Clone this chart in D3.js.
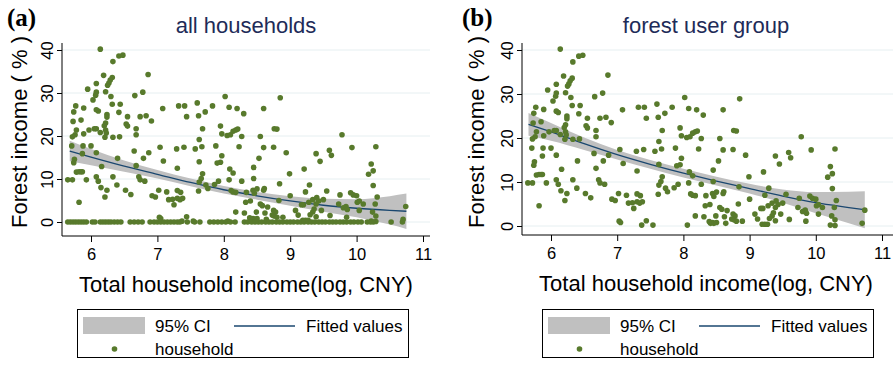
<!DOCTYPE html>
<html>
<head>
<meta charset="utf-8">
<script src="https://cdn.jsdelivr.net/npm/d3@7"></script>
<style>
  body { margin: 0; background: #fff; }
  svg { display: block; font-family: "Liberation Sans", Arial, sans-serif; }
</style>
</head>
<body>
<script>
// households with forest income > 0 (log income, forest income %)
const households = [
  [6.14,40.2],[6.42,38.6],[6.48,38.8],[6.33,37.3],[6.19,34.1],[6.86,34.3],
  [6.32,33.6],[6.29,33.0],[6.27,32.3],[6.25,31.8],[6.08,32.2],[5.95,30.9],
  [6.08,30.2],[6.07,29.5],[6.03,28.4],[6.22,30.3],[6.30,29.2],[6.66,29.4],[6.78,30.2],
  [6.32,27.4],[6.44,27.4],[5.77,27.0],[5.89,26.5],[5.74,25.6],[6.11,25.8],[6.08,26.1],
  [6.24,25.0],[6.24,24.4],[6.42,25.5],[6.55,24.5],[6.74,24.5],[6.83,24.7],[6.91,23.5],
  [7.08,26.4],[7.32,27.0],[7.41,27.0],[7.44,24.5],[6.53,22.8],[6.55,22.3],[6.22,23.0],[6.20,22.4],
  [5.73,23.4],[5.85,23.7],[6.68,21.7],[6.68,20.3],[5.78,21.4],[5.76,20.3],[5.72,19.8],[5.89,20.5],
  [5.97,21.4],[6.05,21.7],[6.08,21.7],[6.14,20.8],[6.22,21.4],[6.23,20.7],[6.21,19.7],[6.33,19.7],[6.43,19.8],
  [5.71,17.7],[5.88,17.7],[6.00,17.7],[6.08,16.1],[5.87,15.9],[6.65,16.5],[6.87,16.1],[7.04,17.4],[7.29,17.0],[7.40,17.4],
  [6.40,14.8],[5.75,14.6],[5.74,13.8],[6.16,12.9],[6.68,13.1],[6.79,14.8],[7.09,14.2],[7.30,12.5],
  [5.78,11.6],[5.82,11.7],[5.85,11.7],[5.87,11.7],[5.65,9.8],[5.72,9.8],[5.93,9.8],[6.08,10.5],[6.11,9.5],
  [6.33,10.5],[6.72,10.5],[6.74,9.8],[6.81,9.5],[6.15,8.0],[6.24,7.4],[6.39,8.6],[6.52,7.4],[6.60,6.4],
  [6.21,5.8],[5.82,4.6],[7.02,7.4],[7.14,7.0],[6.92,6.1],[6.97,5.8],[7.17,5.2],[7.23,5.3],[7.30,5.5],[7.34,5.2],[7.38,5.5],[7.25,4.0],
  [7.30,7.3],[7.35,6.9],[7.03,1.1],[7.05,0.8],[7.37,0.2],[7.44,1.2],
  [7.60,27.7],[7.62,24.7],[7.72,25.6],[7.83,27.0],[8.02,29.2],[8.08,26.7],[8.20,26.4],[8.30,25.2],[8.60,26.4],[8.85,28.9],
  [7.68,21.7],[7.95,22.3],[7.97,20.5],[8.05,20.1],[8.10,20.3],[8.14,21.1],[8.18,21.4],[8.21,21.6],[8.27,19.9],[8.55,19.9],[8.76,21.7],[8.80,21.6],
  [7.63,19.2],[7.57,17.0],[7.67,17.5],[7.88,17.7],[8.23,17.5],[8.60,17.3],[8.75,17.4],[8.94,16.1],
  [7.97,15.4],[7.95,13.9],[7.90,13.7],[7.63,14.0],[8.53,14.8],[8.45,12.7],[8.09,12.3],[8.14,11.4],[7.68,11.2],
  [7.66,10.1],[7.63,9.3],[7.73,8.6],[7.76,7.8],[7.86,8.7],[7.92,9.5],[8.08,9.8],[8.27,9.5],[8.45,10.1],[8.84,8.9],[8.99,11.2],[9.21,12.3],[9.29,8.6],
  [7.62,7.2],[8.11,7.3],[8.14,7.0],[8.18,6.9],[8.34,6.9],[8.44,7.4],[8.50,7.7],[8.46,6.7],[8.60,7.4],[8.61,7.8],[9.23,7.0],
  [8.40,4.9],[8.33,4.6],[8.55,4.2],[8.58,3.8],[8.66,3.5],[8.62,2.1],[8.83,5.0],[8.75,2.7],[8.78,2.3],[8.73,1.6],[8.76,1.4],[8.80,1.1],[8.89,1.1],
  [9.00,6.1],[9.08,2.7],[9.12,1.6],[9.17,4.0],[9.20,4.0],[9.28,4.6],[8.18,2.3],[8.31,2.1],[8.39,1.0],[8.41,0.6],[8.44,0.8],[8.46,0.6],[8.50,0.8],[8.49,2.3],[8.64,0.6],[8.06,0.2],[7.54,0.2],
  [9.19,0.4],[9.23,0.4],[9.27,0.4],
  [9.78,20.3],[9.93,17.3],[10.29,17.5],[9.39,15.9],[9.59,16.7],[9.62,15.5],[9.45,14.1],[10.22,13.5],[10.25,11.9],[10.18,11.1],[10.25,8.5],
  [9.55,7.2],[9.75,6.3],[9.91,6.8],[9.95,6.3],[10.00,6.1],[10.31,5.8],[10.74,3.6],
  [9.34,5.2],[9.40,5.7],[9.43,4.9],[9.39,4.2],[9.50,5.2],[9.36,3.0],[9.34,2.3],[9.30,1.7],[9.39,1.2],[9.47,2.7],[9.60,1.5],
  [9.73,4.2],[9.80,3.3],[9.84,3.6],[9.86,2.9],[9.85,1.1],[10.04,2.7],[10.01,4.6],[10.04,4.9],[10.10,4.2],[10.28,4.2],[10.24,2.3],[10.29,1.4],[10.22,0.2],[10.29,0.1],[10.70,0.6]
];

// log income of households with zero forest income (only in "all households")
const zeroIncome = [
  5.65,5.69,5.73,5.77,5.81,5.85,5.89,5.93,6.02,6.06,6.14,6.18,6.22,6.26,6.30,6.35,6.40,6.45,
  6.59,6.65,6.71,6.77,6.89,6.95,7.00,7.05,7.10,7.15,7.20,7.25,7.30,7.34,7.45,7.56,7.64,
  7.79,7.85,7.91,7.97,8.03,8.10,8.17,8.31,8.36,8.42,8.47,8.52,8.57,8.63,8.68,8.73,8.79,
  8.84,8.89,8.95,9.00,9.05,9.11,9.16,9.21,9.27,9.32,9.37,9.43,9.48,9.53,9.59,9.64,9.69,
  9.75,9.80,9.85,9.91,9.96,10.02,10.07,10.16,10.21,10.25,10.52,10.69
];

// fitted values and 95% CI
const fitXA = [5.68, 6, 6.5, 7, 7.5, 8, 8.5, 9, 9.5, 10, 10.5, 10.75];
const fitA  = [16.5, 15.1, 13.0, 11.1, 9.2, 7.5, 6.1, 4.9, 3.9, 3.2, 2.7, 2.5];
const ciLoA = [14.1, 13.2, 11.7, 10.1, 8.3, 6.6, 5.2, 3.8, 2.4, 1.1, -0.6, -1.6];
const ciHiA = [18.9, 17.0, 14.3, 12.1, 10.1, 8.4, 7.0, 6.0, 5.4, 5.3, 6.0, 6.6];

const fitXB = [5.66, 6, 6.5, 7, 7.5, 8, 8.5, 9, 9.5, 10, 10.5, 10.74];
const fitB  = [23.1, 21.4, 18.7, 16.2, 14.0, 12.0, 10.2, 8.5, 6.8, 5.3, 4.2, 3.7];
const ciLoB = [20.5, 19.4, 17.3, 15.1, 13.0, 11.0, 9.2, 7.4, 5.3, 2.9, 0.6, -0.5];
const ciHiB = [25.7, 23.4, 20.1, 17.3, 15.0, 13.0, 11.2, 9.6, 8.3, 7.7, 7.8, 7.9];

const xTicks = [6, 7, 8, 9, 10, 11];
const yTicks = [0, 10, 20, 30, 40];

const green = '#587a2c';
const navy = '#1a476f';

const svg = d3.select('body').append('svg')
  .attr('width', 893)
  .attr('height', 365);

function drawPanel (p) {
  const g = svg.append('g');

  const x = d3.scaleLinear().domain([6, 11]).range([p.x6, p.x11]);
  const y = d3.scaleLinear().domain([0, 40]).range([p.y0, p.y40]);

  // gridlines
  g.selectAll('line.grid')
    .data(yTicks)
    .enter().append('line')
    .attr('x1', p.left).attr('x2', p.right)
    .attr('y1', d => y(d)).attr('y2', d => y(d))
    .attr('stroke', '#e6eff1')
    .attr('stroke-width', 1);

  // confidence band
  const band = d3.area()
    .x((d, i) => x(p.fitX[i]))
    .y0((d, i) => y(p.ciLo[i]))
    .y1((d, i) => y(p.ciHi[i]))
    .curve(d3.curveMonotoneX);
  g.append('path')
    .attr('d', band(p.fitX))
    .attr('fill', '#c0c0c0');

  const line = d3.line()
    .x((d, i) => x(p.fitX[i]))
    .y((d, i) => y(p.fit[i]))
    .curve(d3.curveMonotoneX);
  g.append('path')
    .attr('d', line(p.fitX))
    .attr('fill', 'none')
    .attr('stroke', navy)
    .attr('stroke-width', 1.3);

  // points
  g.selectAll('circle')
    .data(p.points)
    .enter().append('circle')
    .attr('cx', d => x(d[0]))
    .attr('cy', d => y(d[1]))
    .attr('r', 2.8)
    .attr('fill', green);

  // axes
  const xAxis = d3.axisBottom(x).tickValues(xTicks).tickFormat(d3.format('d'))
    .tickSize(6).tickSizeOuter(0).tickPadding(6);
  const gx = g.append('g')
    .attr('transform', `translate(0, ${p.bottom})`)
    .call(xAxis);
  gx.select('.domain').remove();
  gx.selectAll('text').attr('font-size', 16.5).attr('fill', '#000')
    .attr('font-family', '"Liberation Sans", Arial, sans-serif');
  gx.selectAll('line').attr('stroke', '#000');

  const yAxis = d3.axisLeft(y).tickValues(yTicks).tickFormat(d3.format('d'))
    .tickSize(5).tickSizeOuter(0);
  const gy = g.append('g')
    .attr('transform', `translate(${p.left}, 0)`)
    .call(yAxis);
  gy.select('.domain').remove();
  gy.selectAll('line').attr('stroke', '#000');
  gy.selectAll('text')
    .attr('font-size', 16.5).attr('fill', '#000')
    .attr('font-family', '"Liberation Sans", Arial, sans-serif')
    .attr('x', null).attr('dy', null)
    .attr('text-anchor', 'middle')
    .attr('transform', 'translate(-9, 0) rotate(-90)');

  g.append('line')
    .attr('x1', p.left).attr('x2', p.right)
    .attr('y1', p.bottom).attr('y2', p.bottom)
    .attr('stroke', '#000');
  g.append('line')
    .attr('x1', p.left).attr('x2', p.left)
    .attr('y1', p.top).attr('y2', p.bottom)
    .attr('stroke', '#000');

  // titles
  g.append('text')
    .attr('x', p.titleX).attr('y', 33)
    .attr('text-anchor', 'middle')
    .attr('font-size', 22)
    .attr('fill', '#1e2b58')
    .text(p.title);

  g.append('text')
    .attr('x', p.tagX).attr('y', 26)
    .attr('font-family', '"Liberation Serif", "Times New Roman", serif')
    .attr('font-weight', 'bold')
    .attr('font-size', 25)
    .text(p.tag);

  g.append('text')
    .attr('x', p.titleX).attr('y', p.bottom + 56)
    .attr('text-anchor', 'middle')
    .attr('font-size', 22)
    .text('Total household income(log, CNY)');

  g.append('text')
    .attr('transform', `translate(${p.yTitleX}, 132) rotate(-90)`)
    .attr('text-anchor', 'middle')
    .attr('font-size', 22)
    .text('Forest income ( % )');

  // legend
  const lg = g.append('g').attr('transform', `translate(${p.legendX}, 309)`);
  lg.append('rect')
    .attr('x', 0.5).attr('y', 0.5)
    .attr('width', 331).attr('height', 48)
    .attr('fill', '#fff').attr('stroke', '#000');
  lg.append('rect')
    .attr('x', 6).attr('y', 8)
    .attr('width', 62).attr('height', 17)
    .attr('fill', '#c0c0c0');
  lg.append('text').attr('x', 78).attr('y', 23).attr('font-size', 17).text('95% CI');
  lg.append('line')
    .attr('x1', 157).attr('x2', 218).attr('y1', 17).attr('y2', 17)
    .attr('stroke', navy).attr('stroke-width', 1.3);
  lg.append('text').attr('x', 229).attr('y', 23).attr('font-size', 17).text('Fitted values');
  lg.append('circle').attr('cx', 37.5).attr('cy', 40).attr('r', 2.8).attr('fill', green);
  lg.append('text').attr('x', 78).attr('y', 46).attr('font-size', 17).text('household');
}

const allPoints = households.concat(zeroIncome.map(v => [v, 0]));

drawPanel({
  tag: '(a)', tagX: 7, title: 'all households', titleX: 246,
  left: 62, right: 430, top: 43, bottom: 236,
  x6: 91, x11: 423, y0: 222, y40: 50,
  yTitleX: 27, legendX: 77,
  points: allPoints, fitX: fitXA, fit: fitA, ciLo: ciLoA, ciHi: ciHiA
});

drawPanel({
  tag: '(b)', tagX: 462, title: 'forest user group', titleX: 706,
  left: 522, right: 893, top: 43, bottom: 235,
  x6: 551, x11: 882, y0: 226, y40: 50,
  yTitleX: 484, legendX: 542,
  points: households, fitX: fitXB, fit: fitB, ciLo: ciLoB, ciHi: ciHiB
});
</script>
</body>
</html>
